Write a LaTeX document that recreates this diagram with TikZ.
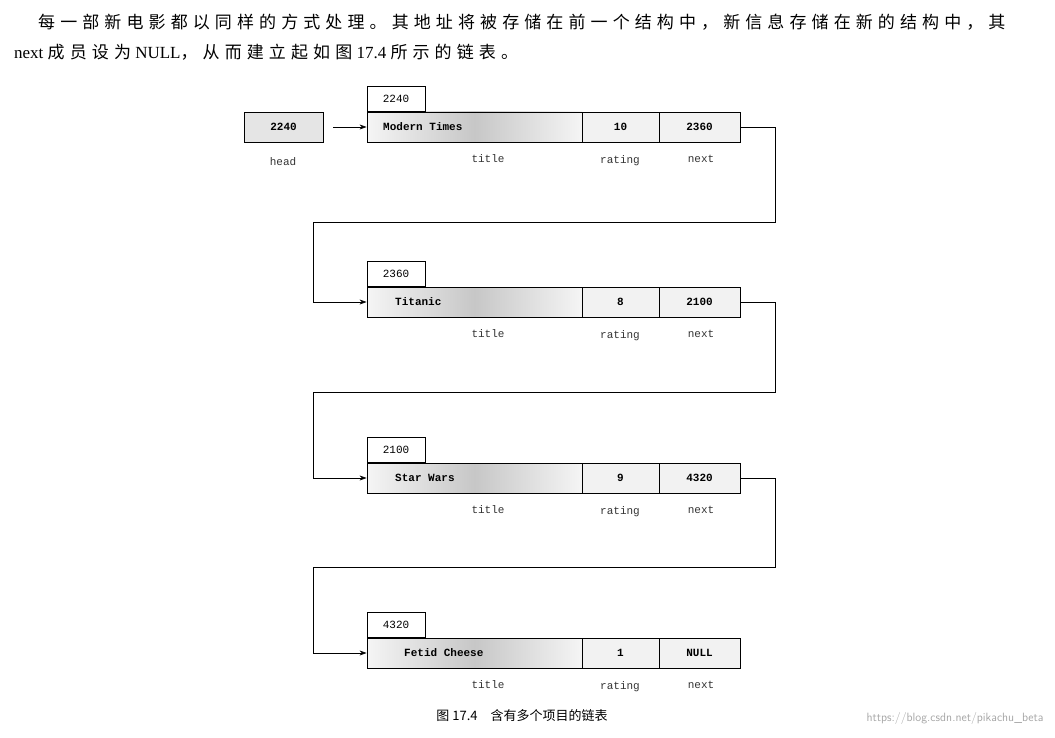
\documentclass[tikz,border=0pt]{standalone}
\usepackage{fontspec}
\setmainfont{Liberation Serif}
\setmonofont{Liberation Mono}
\newfontfamily\cjk[LetterSpace=30]{Noto Sans CJK SC}
\newfontfamily\cjkn{Noto Sans CJK SC}
\usetikzlibrary{arrows.meta}
\begin{document}
\begin{tikzpicture}[x=1pt,y=-1pt,
  cell/.style={draw,line width=0.9pt,minimum height=30pt,inner sep=0pt,font=\ttfamily\bfseries\fontsize{11}{11}\selectfont},
  addr/.style={draw,line width=0.9pt,minimum width=58pt,minimum height=25pt,inner sep=2pt,anchor=south west,font=\ttfamily\fontsize{11}{11}\selectfont,align=left},
  lab/.style={font=\ttfamily\fontsize{11}{11}\selectfont,text=black!80},
  link/.style={line width=0.7pt,-{Stealth[length=7pt,width=5pt]}}]
\useasboundingbox (0,0) rectangle (1055,738);
\node[anchor=west,font=\cjk\fontsize{17}{17}\selectfont,inner sep=0pt] (t1) at (38,22) {每一部新电影都以同样的方式处理。其地址将被存储在前一个结构中，新信息存储在新的结构中，其};
\node[anchor=west,font=\fontsize{17}{17}\selectfont,inner sep=0pt] (t2) at (14,52) {next {\cjk 成员设为} NULL{\cjk ，从而建立起如图} 17.4 {\cjk 所示的链表。}};
\node[cell,minimum width=79pt,fill=black!10] (head) at (283.5,127) {2240};
\node[lab] (hl) at (283,162) {head};
\foreach \i/\y/\a/\t/\r/\n/\tx in {1/127/2240/Modern Times/10/2360/383, 2/302/2360/Titanic/8/2100/395, 3/478/2100/Star Wars/9/4320/395, 4/653/4320/Fetid Cheese/1/NULL/404}{
  \node[cell,minimum width=215pt,left color=black!4,right color=black!4,middle color=black!22] (ti\i) at (474.5,\y) {};
  \node[anchor=west,font=\ttfamily\bfseries\fontsize{11}{11}\selectfont,inner sep=0pt] (tt\i) at (\tx,\y) {\t};
  \node[cell,minimum width=77pt,fill=black!5] (ra\i) at (620.5,\y) {\r};
  \node[cell,minimum width=81pt,fill=black!5] (ne\i) at (699.5,\y) {\n};
  \node[addr] (ad\i) at (ti\i.north west) {\a};
  \node[lab] (tl\i) at (488,\y+32) {title};
  \node[lab] (rl\i) at (620,\y+34) {rating};
  \node[lab] (nl\i) at (701,\y+32) {next};
}
\draw[link] (head.east) ++(10,0) coordinate (h0) -- (ti1.west);
\foreach \i/\j/\yy in {1/2/222, 2/3/392, 3/4/567}{
  \coordinate (c\i) at ([xshift=35pt]ne\i.east);
  \draw[link] (ne\i.east) -- (c\i) |- (313,\yy) |- (ti\j.west);
}
\node[font=\cjkn\fontsize{13}{13}\selectfont] (cap) at (522,716) {图 17.4\quad 含有多个项目的链表};
\node[anchor=east,text=black!35,font=\fontsize{12}{12}\selectfont\sffamily] (wm) at (1047,718) {https://blog.csdn.net/pikachu\_beta};
\end{tikzpicture}
\end{document}
